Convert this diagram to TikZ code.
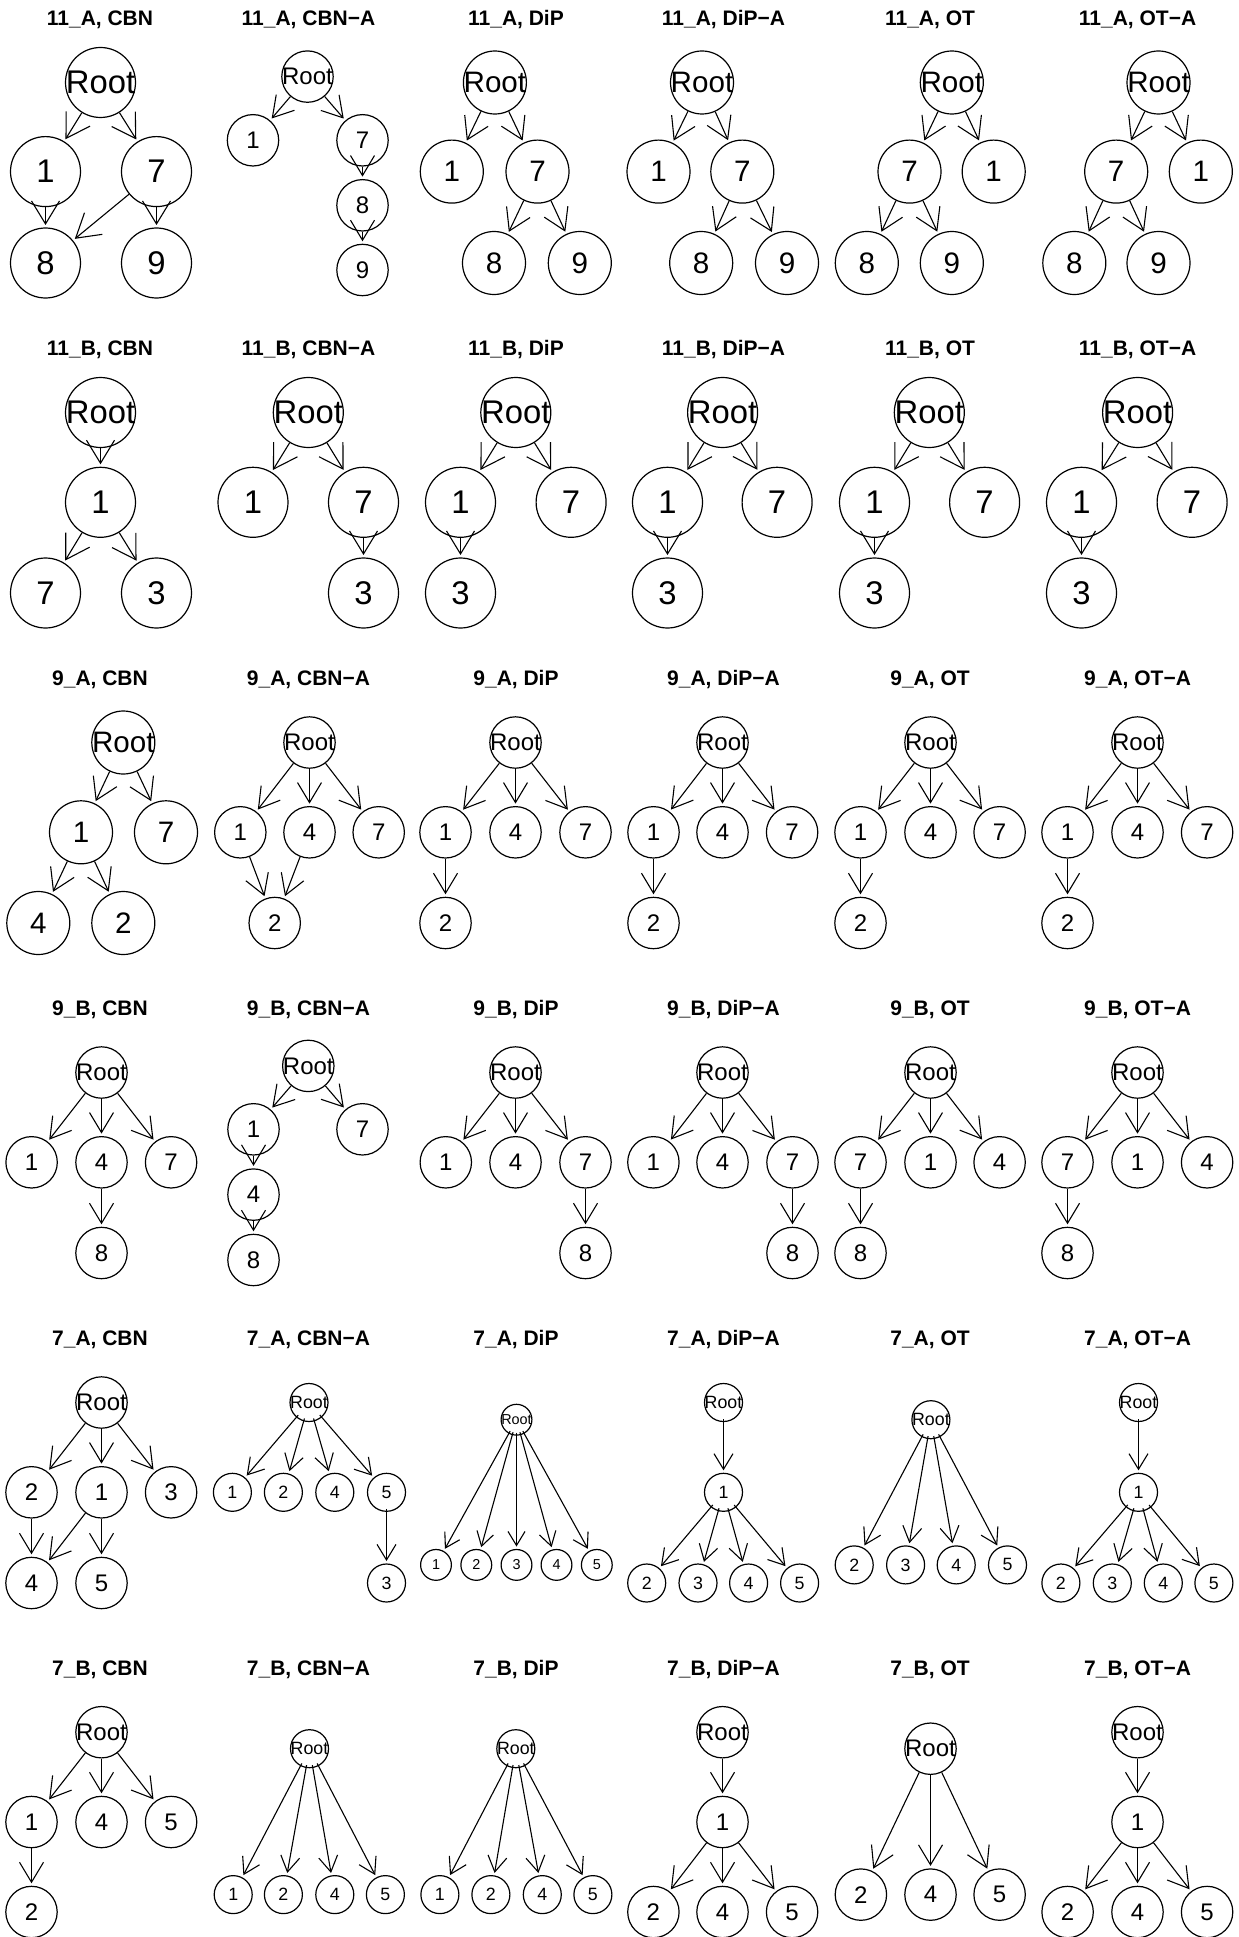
\documentclass[tikz,border=0pt]{standalone}
\usepackage{fontspec}
\setmainfont{Liberation Sans}
\usetikzlibrary{arrows.meta}
\newcommand\nlab[1]{\makebox[0pt]{#1}}
\tikzset{
  nd/.style={circle, draw, fill=white, line width=0.6pt, inner sep=0pt},
  nA/.style={nd, minimum size=35pt, font=\fontsize{16.4pt}{16.4pt}\selectfont},
  nB/.style={nd, minimum size=31.5pt, font=\fontsize{14.8pt}{14.8pt}\selectfont},
  nC/.style={nd, minimum size=25.7pt, font=\fontsize{12pt}{12pt}\selectfont},
  nD/.style={nd, minimum size=19pt, font=\fontsize{8.9pt}{8.9pt}\selectfont},
  nE/.style={nd, minimum size=15.4pt, font=\fontsize{7.2pt}{7.2pt}\selectfont},
  ed/.style={line width=0.55pt, shorten >=1.2pt},
  eA/.style={ed, -{Straight Barb[length=11.5pt,width=14pt]}},
  eB/.style={ed, -{Straight Barb[length=10.5pt,width=13pt]}},
  eC/.style={ed, -{Straight Barb[length=10pt,width=12pt]}},
  eD/.style={ed, shorten <=-1.5pt, -{Straight Barb[length=7.8pt,width=9.5pt]}},
  eE/.style={ed, shorten <=-1.5pt, -{Straight Barb[length=7pt,width=8.5pt]}},
  ttl/.style={font=\fontsize{10.5pt}{10.5pt}\selectfont\bfseries, anchor=base, inner sep=0pt},
}
\begin{document}
\begin{tikzpicture}[x=0.5pt, y=-0.5pt]
\fill[white] (0,0) rectangle (1238,1937);
\useasboundingbox (0,0) rectangle (1238,1937);

% ---------- titles ----------
\foreach \r/\yy/\nm in {1/25.9/11\_A, 2/355.9/11\_B, 3/685.9/9\_A, 4/1015.9/9\_B, 5/1345.9/7\_A, 6/1675.2/7\_B}{
  \node[ttl] (t\r a) at (100,\yy) {\nm, CBN};
  \node[ttl] (t\r b) at (308.5,\yy) {\nm, CBN−A};
  \node[ttl] (t\r c) at (516,\yy) {\nm, DiP};
  \node[ttl] (t\r d) at (723.5,\yy) {\nm, DiP−A};
  \node[ttl] (t\r e) at (930,\yy) {\nm, OT};
  \node[ttl] (t\r f) at (1137.6,\yy) {\nm, OT−A};
}

% ================= Row 1: 11_A =================
% CBN
\node[nA] (p11-R) at (100.5,82.5) {\nlab{Root}};
\node[nA] (p11-1) at (45.5,171.6) {\nlab{1}};
\node[nA] (p11-7) at (156.5,171.6) {\nlab{7}};
\node[nA] (p11-8) at (45.5,263) {\nlab{8}};
\node[nA] (p11-9) at (156.5,263) {\nlab{9}};
\draw[eA] (p11-R) -- (p11-1);
\draw[eA] (p11-R) -- (p11-7);
\draw[eA] (p11-1) -- (p11-8);
\draw[eA] (p11-7) -- (p11-8);
\draw[eA] (p11-7) -- (p11-9);
% CBN-A
\node[nC] (p12-R) at (307.5,76.6) {\nlab{Root}};
\node[nC] (p12-1) at (253,140.3) {\nlab{1}};
\node[nC] (p12-7) at (362.5,140.3) {\nlab{7}};
\node[nC] (p12-8) at (362.5,205.3) {\nlab{8}};
\node[nC] (p12-9) at (362.5,270) {\nlab{9}};
\draw[eC] (p12-R) -- (p12-1);
\draw[eC] (p12-R) -- (p12-7);
\draw[eC] (p12-7) -- (p12-8);
\draw[eC] (p12-8) -- (p12-9);
% DiP
\node[nB] (p13-R) at (494.9,82.5) {\nlab{Root}};
\node[nB] (p13-1) at (451.8,171.6) {\nlab{1}};
\node[nB] (p13-7) at (537.5,171.6) {\nlab{7}};
\node[nB] (p13-8) at (494,263) {\nlab{8}};
\node[nB] (p13-9) at (579.8,263) {\nlab{9}};
\draw[eB] (p13-R) -- (p13-1);
\draw[eB] (p13-R) -- (p13-7);
\draw[eB] (p13-7) -- (p13-8);
\draw[eB] (p13-7) -- (p13-9);
% DiP-A
\node[nB] (p14-R) at (702,82.5) {\nlab{Root}};
\node[nB] (p14-1) at (658.5,171.6) {\nlab{1}};
\node[nB] (p14-7) at (742.3,171.6) {\nlab{7}};
\node[nB] (p14-8) at (701.2,263) {\nlab{8}};
\node[nB] (p14-9) at (787,263) {\nlab{9}};
\draw[eB] (p14-R) -- (p14-1);
\draw[eB] (p14-R) -- (p14-7);
\draw[eB] (p14-7) -- (p14-8);
\draw[eB] (p14-7) -- (p14-9);
% OT
\node[nB] (p15-R) at (951.8,82.5) {\nlab{Root}};
\node[nB] (p15-7) at (909.5,171.6) {\nlab{7}};
\node[nB] (p15-1) at (993.7,171.6) {\nlab{1}};
\node[nB] (p15-8) at (866.8,263) {\nlab{8}};
\node[nB] (p15-9) at (951.8,263) {\nlab{9}};
\draw[eB] (p15-R) -- (p15-7);
\draw[eB] (p15-R) -- (p15-1);
\draw[eB] (p15-7) -- (p15-8);
\draw[eB] (p15-7) -- (p15-9);
% OT-A
\node[nB] (p16-R) at (1158.5,82.5) {\nlab{Root}};
\node[nB] (p16-7) at (1116.2,171.6) {\nlab{7}};
\node[nB] (p16-1) at (1200.8,171.6) {\nlab{1}};
\node[nB] (p16-8) at (1074.3,263) {\nlab{8}};
\node[nB] (p16-9) at (1158.5,263) {\nlab{9}};
\draw[eB] (p16-R) -- (p16-7);
\draw[eB] (p16-R) -- (p16-1);
\draw[eB] (p16-7) -- (p16-8);
\draw[eB] (p16-7) -- (p16-9);

% ================= Row 2: 11_B =================
% CBN
\node[nA] (p21-R) at (100.5,412.5) {\nlab{Root}};
\node[nA] (p21-1) at (100.5,502.3) {\nlab{1}};
\node[nA] (p21-7) at (45.5,593) {\nlab{7}};
\node[nA] (p21-3) at (156.5,593) {\nlab{3}};
\draw[eA] (p21-R) -- (p21-1);
\draw[eA] (p21-1) -- (p21-7);
\draw[eA] (p21-1) -- (p21-3);
% CBN-A
\node[nA] (p22-R) at (308.3,412.5) {\nlab{Root}};
\node[nA] (p22-1) at (253,502.3) {\nlab{1}};
\node[nA] (p22-7) at (363.5,502.3) {\nlab{7}};
\node[nA] (p22-3) at (363.5,593) {\nlab{3}};
\draw[eA] (p22-R) -- (p22-1);
\draw[eA] (p22-R) -- (p22-7);
\draw[eA] (p22-7) -- (p22-3);
% DiP
\node[nA] (p23-R) at (515.8,412.5) {\nlab{Root}};
\node[nA] (p23-1) at (460.5,502.3) {\nlab{1}};
\node[nA] (p23-7) at (571.1,502.3) {\nlab{7}};
\node[nA] (p23-3) at (460.5,593) {\nlab{3}};
\draw[eA] (p23-R) -- (p23-1);
\draw[eA] (p23-R) -- (p23-7);
\draw[eA] (p23-1) -- (p23-3);
% DiP-A
\node[nA] (p24-R) at (722.6,412.5) {\nlab{Root}};
\node[nA] (p24-1) at (667.5,502.3) {\nlab{1}};
\node[nA] (p24-7) at (777.1,502.3) {\nlab{7}};
\node[nA] (p24-3) at (667.5,593) {\nlab{3}};
\draw[eA] (p24-R) -- (p24-1);
\draw[eA] (p24-R) -- (p24-7);
\draw[eA] (p24-1) -- (p24-3);
% OT
\node[nA] (p25-R) at (929.3,412.5) {\nlab{Root}};
\node[nA] (p25-1) at (874.5,502.3) {\nlab{1}};
\node[nA] (p25-7) at (984.6,502.3) {\nlab{7}};
\node[nA] (p25-3) at (874.5,593) {\nlab{3}};
\draw[eA] (p25-R) -- (p25-1);
\draw[eA] (p25-R) -- (p25-7);
\draw[eA] (p25-1) -- (p25-3);
% OT-A
\node[nA] (p26-R) at (1137.6,412.5) {\nlab{Root}};
\node[nA] (p26-1) at (1081.5,502.3) {\nlab{1}};
\node[nA] (p26-7) at (1192.1,502.3) {\nlab{7}};
\node[nA] (p26-3) at (1081.5,593) {\nlab{3}};
\draw[eA] (p26-R) -- (p26-1);
\draw[eA] (p26-R) -- (p26-7);
\draw[eA] (p26-1) -- (p26-3);

% ================= Row 3: 9_A =================
% CBN
\node[nB] (p31-R) at (123.3,742.5) {\nlab{Root}};
\node[nB] (p31-1) at (81,832.3) {\nlab{1}};
\node[nB] (p31-7) at (166,832.3) {\nlab{7}};
\node[nB] (p31-4) at (38.3,923) {\nlab{4}};
\node[nB] (p31-2) at (123.3,923) {\nlab{2}};
\draw[eB] (p31-R) -- (p31-1);
\draw[eB] (p31-R) -- (p31-7);
\draw[eB] (p31-1) -- (p31-4);
\draw[eB] (p31-1) -- (p31-2);
% CBN-A
\node[nC] (p32-R) at (309.5,742.5) {\nlab{Root}};
\node[nC] (p32-1) at (240.3,832.3) {\nlab{1}};
\node[nC] (p32-4) at (309.5,832.3) {\nlab{4}};
\node[nC] (p32-7) at (378.7,832.3) {\nlab{7}};
\node[nC] (p32-2) at (274.7,923) {\nlab{2}};
\draw[eC] (p32-R) -- (p32-1);
\draw[eC] (p32-R) -- (p32-4);
\draw[eC] (p32-R) -- (p32-7);
\draw[eC] (p32-1) -- (p32-2);
\draw[eC] (p32-4) -- (p32-2);
% DiP
\node[nC] (p33-R) at (515.5,742.5) {\nlab{Root}};
\node[nC] (p33-1) at (445.5,832.3) {\nlab{1}};
\node[nC] (p33-4) at (515.5,832.3) {\nlab{4}};
\node[nC] (p33-7) at (585.5,832.3) {\nlab{7}};
\node[nC] (p33-2) at (445.5,923) {\nlab{2}};
\draw[eC] (p33-R) -- (p33-1);
\draw[eC] (p33-R) -- (p33-4);
\draw[eC] (p33-R) -- (p33-7);
\draw[eC] (p33-1) -- (p33-2);
% DiP-A
\node[nC] (p34-R) at (722.5,742.5) {\nlab{Root}};
\node[nC] (p34-1) at (653.5,832.3) {\nlab{1}};
\node[nC] (p34-4) at (722.5,832.3) {\nlab{4}};
\node[nC] (p34-7) at (792.1,832.3) {\nlab{7}};
\node[nC] (p34-2) at (653.5,923) {\nlab{2}};
\draw[eC] (p34-R) -- (p34-1);
\draw[eC] (p34-R) -- (p34-4);
\draw[eC] (p34-R) -- (p34-7);
\draw[eC] (p34-1) -- (p34-2);
% OT
\node[nC] (p35-R) at (930.5,742.5) {\nlab{Root}};
\node[nC] (p35-1) at (860.5,832.3) {\nlab{1}};
\node[nC] (p35-4) at (930.5,832.3) {\nlab{4}};
\node[nC] (p35-7) at (999.6,832.3) {\nlab{7}};
\node[nC] (p35-2) at (860.5,923) {\nlab{2}};
\draw[eC] (p35-R) -- (p35-1);
\draw[eC] (p35-R) -- (p35-4);
\draw[eC] (p35-R) -- (p35-7);
\draw[eC] (p35-1) -- (p35-2);
% OT-A
\node[nC] (p36-R) at (1137.5,742.5) {\nlab{Root}};
\node[nC] (p36-1) at (1067.5,832.3) {\nlab{1}};
\node[nC] (p36-4) at (1137.5,832.3) {\nlab{4}};
\node[nC] (p36-7) at (1207.1,832.3) {\nlab{7}};
\node[nC] (p36-2) at (1067.5,923) {\nlab{2}};
\draw[eC] (p36-R) -- (p36-1);
\draw[eC] (p36-R) -- (p36-4);
\draw[eC] (p36-R) -- (p36-7);
\draw[eC] (p36-1) -- (p36-2);

% ================= Row 4: 9_B =================
% CBN
\node[nC] (p41-R) at (101.5,1072.5) {\nlab{Root}};
\node[nC] (p41-1) at (31.6,1162.3) {\nlab{1}};
\node[nC] (p41-4) at (101.5,1162.3) {\nlab{4}};
\node[nC] (p41-7) at (171.1,1162.3) {\nlab{7}};
\node[nC] (p41-8) at (101.5,1253) {\nlab{8}};
\draw[eC] (p41-R) -- (p41-1);
\draw[eC] (p41-R) -- (p41-4);
\draw[eC] (p41-R) -- (p41-7);
\draw[eC] (p41-4) -- (p41-8);
% CBN-A
\node[nC] (p42-R) at (308.3,1065.9) {\nlab{Root}};
\node[nC] (p42-1) at (253.5,1129.3) {\nlab{1}};
\node[nC] (p42-7) at (362.5,1129.3) {\nlab{7}};
\node[nC] (p42-4) at (253.5,1194.6) {\nlab{4}};
\node[nC] (p42-8) at (253.5,1260) {\nlab{8}};
\draw[eC] (p42-R) -- (p42-1);
\draw[eC] (p42-R) -- (p42-7);
\draw[eC] (p42-1) -- (p42-4);
\draw[eC] (p42-4) -- (p42-8);
% DiP
\node[nC] (p43-R) at (515.5,1072.5) {\nlab{Root}};
\node[nC] (p43-1) at (445.8,1162.3) {\nlab{1}};
\node[nC] (p43-4) at (515.5,1162.3) {\nlab{4}};
\node[nC] (p43-7) at (585.5,1162.3) {\nlab{7}};
\node[nC] (p43-8) at (585.5,1253) {\nlab{8}};
\draw[eC] (p43-R) -- (p43-1);
\draw[eC] (p43-R) -- (p43-4);
\draw[eC] (p43-R) -- (p43-7);
\draw[eC] (p43-7) -- (p43-8);
% DiP-A
\node[nC] (p44-R) at (722.5,1072.5) {\nlab{Root}};
\node[nC] (p44-1) at (653.4,1162.3) {\nlab{1}};
\node[nC] (p44-4) at (722.5,1162.3) {\nlab{4}};
\node[nC] (p44-7) at (792.5,1162.3) {\nlab{7}};
\node[nC] (p44-8) at (792.5,1253) {\nlab{8}};
\draw[eC] (p44-R) -- (p44-1);
\draw[eC] (p44-R) -- (p44-4);
\draw[eC] (p44-R) -- (p44-7);
\draw[eC] (p44-7) -- (p44-8);
% OT
\node[nC] (p45-R) at (930.5,1072.5) {\nlab{Root}};
\node[nC] (p45-7) at (860.5,1162.3) {\nlab{7}};
\node[nC] (p45-1) at (930.5,1162.3) {\nlab{1}};
\node[nC] (p45-4) at (999.6,1162.3) {\nlab{4}};
\node[nC] (p45-8) at (860.5,1253) {\nlab{8}};
\draw[eC] (p45-R) -- (p45-7);
\draw[eC] (p45-R) -- (p45-1);
\draw[eC] (p45-R) -- (p45-4);
\draw[eC] (p45-7) -- (p45-8);
% OT-A
\node[nC] (p46-R) at (1137.5,1072.5) {\nlab{Root}};
\node[nC] (p46-7) at (1067.5,1162.3) {\nlab{7}};
\node[nC] (p46-1) at (1137.5,1162.3) {\nlab{1}};
\node[nC] (p46-4) at (1207.1,1162.3) {\nlab{4}};
\node[nC] (p46-8) at (1067.5,1253) {\nlab{8}};
\draw[eC] (p46-R) -- (p46-7);
\draw[eC] (p46-R) -- (p46-1);
\draw[eC] (p46-R) -- (p46-4);
\draw[eC] (p46-7) -- (p46-8);

% ================= Row 5: 7_A =================
% CBN
\node[nC] (p51-R) at (101.5,1402.5) {\nlab{Root}};
\node[nC] (p51-2) at (31.5,1492.3) {\nlab{2}};
\node[nC] (p51-1) at (101.5,1492.3) {\nlab{1}};
\node[nC] (p51-3) at (171.1,1492.3) {\nlab{3}};
\node[nC] (p51-4) at (31.5,1583) {\nlab{4}};
\node[nC] (p51-5) at (101.5,1583) {\nlab{5}};
\draw[eC] (p51-R) -- (p51-2);
\draw[eC] (p51-R) -- (p51-1);
\draw[eC] (p51-R) -- (p51-3);
\draw[eC] (p51-2) -- (p51-4);
\draw[eC] (p51-1) -- (p51-4);
\draw[eC] (p51-1) -- (p51-5);
% CBN-A
\node[nD] (p52-R) at (309,1402.5) {\nlab{Root}};
\node[nD] (p52-1) at (232.4,1492.3) {\nlab{1}};
\node[nD] (p52-2) at (283.4,1492.3) {\nlab{2}};
\node[nD] (p52-4) at (334.8,1492.3) {\nlab{4}};
\node[nD] (p52-5) at (386.5,1492.3) {\nlab{5}};
\node[nD] (p52-3) at (386.5,1583) {\nlab{3}};
\draw[eD] (p52-R) -- (p52-1);
\draw[eD] (p52-R) -- (p52-2);
\draw[eD] (p52-R) -- (p52-4);
\draw[eD] (p52-R) -- (p52-5);
\draw[eD] (p52-5) -- (p52-3);
% DiP
\node[nE] (p53-R) at (516.5,1419.7) {\nlab{Root}};
\node[nE] (p53-1) at (436,1564.9) {\nlab{1}};
\node[nE] (p53-2) at (476.3,1564.9) {\nlab{2}};
\node[nE] (p53-3) at (516.5,1564.9) {\nlab{3}};
\node[nE] (p53-4) at (556.5,1564.9) {\nlab{4}};
\node[nE] (p53-5) at (596.8,1564.9) {\nlab{5}};
\foreach \k in {1,2,3,4,5} \draw[eE] (p53-R) -- (p53-\k);
% DiP-A
\node[nD] (p54-R) at (723.5,1402.5) {\nlab{Root}};
\node[nD] (p54-1) at (723.5,1492.3) {\nlab{1}};
\node[nD] (p54-2) at (646.7,1583) {\nlab{2}};
\node[nD] (p54-3) at (698,1583) {\nlab{3}};
\node[nD] (p54-4) at (748.6,1583) {\nlab{4}};
\node[nD] (p54-5) at (799.6,1583) {\nlab{5}};
\draw[eD] (p54-R) -- (p54-1);
\foreach \k in {2,3,4,5} \draw[eD] (p54-1) -- (p54-\k);
% OT
\node[nD] (p55-R) at (930.9,1419.7) {\nlab{Root}};
\node[nD] (p55-2) at (854.2,1564.9) {\nlab{2}};
\node[nD] (p55-3) at (905.6,1564.9) {\nlab{3}};
\node[nD] (p55-4) at (956.2,1564.9) {\nlab{4}};
\node[nD] (p55-5) at (1007.5,1564.9) {\nlab{5}};
\foreach \k in {2,3,4,5} \draw[eD] (p55-R) -- (p55-\k);
% OT-A
\node[nD] (p56-R) at (1138.5,1402.5) {\nlab{Root}};
\node[nD] (p56-1) at (1138.5,1492.3) {\nlab{1}};
\node[nD] (p56-2) at (1060.9,1583) {\nlab{2}};
\node[nD] (p56-3) at (1112.3,1583) {\nlab{3}};
\node[nD] (p56-4) at (1163.3,1583) {\nlab{4}};
\node[nD] (p56-5) at (1213.9,1583) {\nlab{5}};
\draw[eD] (p56-R) -- (p56-1);
\foreach \k in {2,3,4,5} \draw[eD] (p56-1) -- (p56-\k);

% ================= Row 6: 7_B =================
% CBN
\node[nC] (p61-R) at (101.5,1732.2) {\nlab{Root}};
\node[nC] (p61-1) at (31.5,1822) {\nlab{1}};
\node[nC] (p61-4) at (101.5,1822) {\nlab{4}};
\node[nC] (p61-5) at (171.1,1822) {\nlab{5}};
\node[nC] (p61-2) at (31.5,1912) {\nlab{2}};
\draw[eC] (p61-R) -- (p61-1);
\draw[eC] (p61-R) -- (p61-4);
\draw[eC] (p61-R) -- (p61-5);
\draw[eC] (p61-1) -- (p61-2);
% CBN-A
\node[nD] (p62-R) at (309.5,1748.7) {\nlab{Root}};
\node[nD] (p62-1) at (233.2,1894.6) {\nlab{1}};
\node[nD] (p62-2) at (283.4,1894.6) {\nlab{2}};
\node[nD] (p62-4) at (334.8,1894.6) {\nlab{4}};
\node[nD] (p62-5) at (385.4,1894.6) {\nlab{5}};
\foreach \k in {1,2,4,5} \draw[eD] (p62-R) -- (p62-\k);
% DiP
\node[nD] (p63-R) at (515.8,1748.7) {\nlab{Root}};
\node[nD] (p63-1) at (439.9,1894.6) {\nlab{1}};
\node[nD] (p63-2) at (490.9,1894.6) {\nlab{2}};
\node[nD] (p63-4) at (542.3,1894.6) {\nlab{4}};
\node[nD] (p63-5) at (592.9,1894.6) {\nlab{5}};
\foreach \k in {1,2,4,5} \draw[eD] (p63-R) -- (p63-\k);
% DiP-A
\node[nC] (p64-R) at (722.5,1732.2) {\nlab{Root}};
\node[nC] (p64-1) at (722.5,1822) {\nlab{1}};
\node[nC] (p64-2) at (653.4,1912) {\nlab{2}};
\node[nC] (p64-4) at (722.5,1912) {\nlab{4}};
\node[nC] (p64-5) at (792.1,1912) {\nlab{5}};
\draw[eC] (p64-R) -- (p64-1);
\foreach \k in {2,4,5} \draw[eC] (p64-1) -- (p64-\k);
% OT
\node[nC] (p65-R) at (930.5,1748.7) {\nlab{Root}};
\node[nC] (p65-2) at (860.9,1894.6) {\nlab{2}};
\node[nC] (p65-4) at (930.5,1894.6) {\nlab{4}};
\node[nC] (p65-5) at (999.6,1894.6) {\nlab{5}};
\foreach \k in {2,4,5} \draw[eC] (p65-R) -- (p65-\k);
% OT-A
\node[nC] (p66-R) at (1137.5,1732.2) {\nlab{Root}};
\node[nC] (p66-1) at (1137.5,1822) {\nlab{1}};
\node[nC] (p66-2) at (1067.6,1912) {\nlab{2}};
\node[nC] (p66-4) at (1137.5,1912) {\nlab{4}};
\node[nC] (p66-5) at (1207.1,1912) {\nlab{5}};
\draw[eC] (p66-R) -- (p66-1);
\foreach \k in {2,4,5} \draw[eC] (p66-1) -- (p66-\k);
\end{tikzpicture}
\end{document}
